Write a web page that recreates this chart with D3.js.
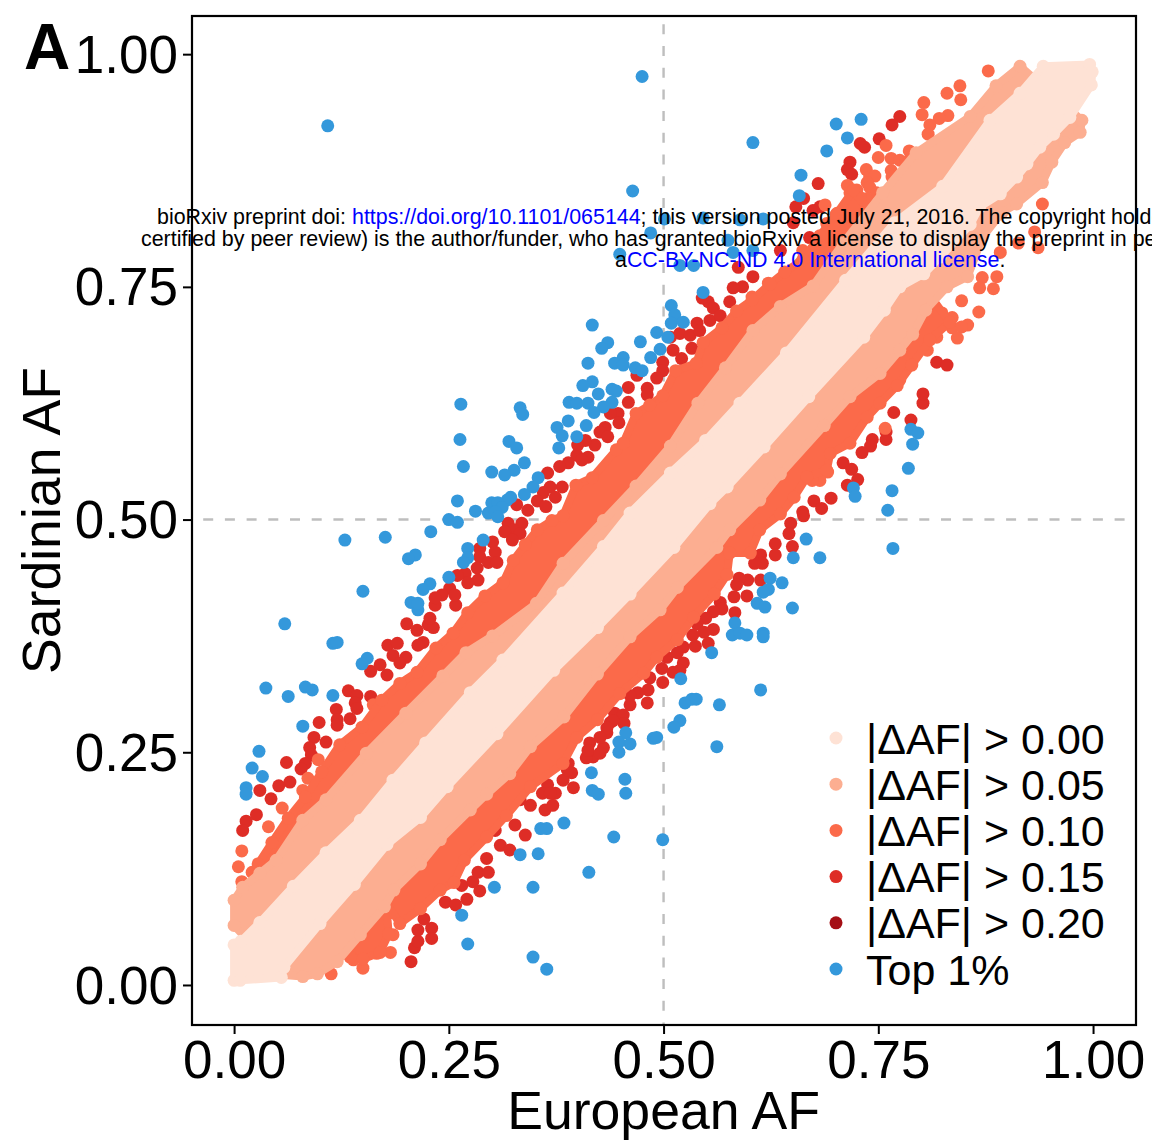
<!DOCTYPE html>
<html>
<head>
<meta charset="utf-8">
<script src="https://cdnjs.cloudflare.com/ajax/libs/d3/7.8.5/d3.min.js"></script>
<style>
  body { margin: 0; background: #fff; overflow: hidden; }
  text { font-family: "Liberation Sans", Arial, sans-serif; }
</style>
</head>
<body>
<div id="chart"></div>
<script>
// Values: [European AF, Sardinian AF]
const tickValues = [0, 0.25, 0.5, 0.75, 1];
const legendLabels = ["|ΔAF| > 0.00", "|ΔAF| > 0.05", "|ΔAF| > 0.10", "|ΔAF| > 0.15", "|ΔAF| > 0.20", "Top 1%"];
const legendColors = ["#fee2d5", "#fcae91", "#fb6a4a", "#de2d26", "#a50f15", "#3498db"];

const topOnePercent = [
  [.475,.976],[.109,.923],[.604,.905],[.464,.853],[.701,.925],[.730,.930],[.714,.910],[.690,.896],[.660,.870],[.658,.848],
  [.546,.824],[.589,.822],[.616,.823],[.501,.823],[.485,.808],[.575,.800],[.581,.787],[.449,.785],[.519,.773],[.535,.773],
  [.604,.789],[.546,.744],[.509,.730],[.513,.720],[.509,.711],[.523,.712],[.417,.709],[.492,.701],[.505,.696],[.473,.691],
  [.435,.690],[.428,.684],[.496,.683],[.453,.674],[.485,.674],[.412,.668],[.443,.668],[.453,.666],[.467,.663],[.475,.660],
  [.417,.648],[.406,.644],[.440,.640],[.445,.638],[.424,.635],[.440,.626],[.390,.626],[.399,.625],[.412,.625],[.430,.621],
  [.419,.615],[.264,.624],[.333,.620],[.336,.613],[.389,.606],[.410,.601],[.376,.599],[.382,.590],[.399,.589],[.263,.586],
  [.320,.584],[.329,.577],[.378,.577],[.267,.557],[.338,.561],[.326,.553],[.300,.551],[.315,.548],[.354,.545],[.348,.535],
  [.338,.527],[.322,.524],[.318,.521],[.260,.520],[.300,.518],[.307,.518],[.281,.509],[.312,.513],[.296,.507],[.304,.508],
  [.307,.503],[.250,.500],[.260,.497],[.229,.487],[.290,.478],[.272,.469],[.272,.459],[.267,.454],[.211,.462],[.203,.458],
  [.250,.438],[.228,.431],[.220,.425],[.206,.411],[.214,.403],[.214,.410],[.129,.478],[.176,.481],[.150,.423],[.059,.388],
  [.115,.367],[.120,.368],[.155,.351],[.149,.345],[.037,.319],[.063,.310],[.083,.320],[.091,.317],[.115,.311],[.080,.278],
  [.029,.251],[.021,.233],[.033,.224],[.014,.212],[.014,.205],
  [.788,.597],[.796,.593],[.790,.581],[.785,.555],[.766,.531],[.721,.534],[.723,.525],[.761,.510],[.767,.469],[.666,.479],
  [.651,.459],[.682,.459],[.624,.437],[.638,.432],[.622,.425],[.616,.422],[.609,.410],[.618,.406],[.650,.405],[.583,.389],
  [.580,.376],[.589,.378],[.597,.376],[.616,.378],[.616,.374],[.556,.357],[.520,.329],[.613,.317],[.525,.303],[.533,.307],
  [.538,.307],[.565,.301],[.519,.284],[.512,.277],[.456,.271],[.448,.261],[.461,.259],[.448,.250],[.488,.265],[.492,.266],
  [.562,.256],[.416,.228],[.455,.221],[.456,.206],[.417,.209],[.424,.205],[.499,.156],[.442,.159],[.384,.174],[.357,.168],
  [.364,.168],[.354,.141],[.333,.140],[.303,.105],[.348,.105],[.413,.121],[.348,.030],[.364,.017],[.272,.044],[.265,.075]
];

const deltaOver15 = [
  [.159,.337],[.178,.333],[.170,.344],[.179,.365],[.190,.367],[.185,.354],[.200,.352],[.193,.346],[.201,.388],[.213,.381],
  [.220,.368],[.214,.365],[.226,.387],[.232,.384],[.228,.394],[.234,.408],[.258,.408],[.133,.316],[.143,.311],[.159,.310],
  [.141,.303],[.143,.297],[.119,.296],[.099,.282],[.120,.285],[.120,.279],[.135,.286],[.093,.266],[.107,.261],[.088,.255],
  [.090,.247],[.083,.238],[.078,.232],[.061,.239],[.065,.218],[.052,.214],[.030,.209],[.043,.200],[.026,.183],[.014,.176],
  [.010,.166],
  [.206,.025],[.210,.040],[.214,.047],[.214,.059],[.221,.071],[.230,.061],[.230,.050],[.246,.089],[.258,.086],[.271,.092],
  [.286,.101],[.265,.107],[.278,.111],[.284,.121],[.296,.121],[.294,.136],[.310,.150],[.321,.145],[.304,.166],[.327,.172],
  [.339,.161],[.345,.193],[.333,.199],[.362,.188],[.371,.193],
  [.539,.711],[.519,.700],[.508,.696],[.533,.684],[.511,.682],[.521,.673],[.499,.669],[.499,.660],[.492,.652],[.469,.655],
  [.481,.641],[.481,.634],[.459,.642],[.459,.626],[.447,.614],[.438,.614],[.448,.604],[.432,.599],[.426,.594],[.435,.589],
  [.420,.580],[.409,.585],[.400,.580],[.412,.567],[.399,.569],[.405,.564],[.389,.561],[.379,.557],[.365,.550],[.382,.535],
  [.368,.535],[.360,.529],[.374,.524],[.353,.520],[.363,.514],[.342,.510],[.329,.516],[.319,.496],[.335,.496],[.325,.489],
  [.333,.485],[.315,.487],[.324,.478],[.301,.476],[.286,.469],[.286,.460],[.304,.465],[.296,.454],[.306,.454],[.283,.448],
  [.284,.435],[.269,.442],[.272,.432],[.260,.440],[.251,.426],[.257,.419],[.242,.419],[.234,.416],
  [.802,.625],[.788,.607],[.768,.615],[.759,.594],[.759,.586],[.743,.586],[.741,.579],[.731,.572],[.709,.561],[.719,.554],
  [.726,.543],[.714,.537],[.695,.523],[.675,.520],[.684,.512],[.662,.508],[.663,.504],[.648,.496],[.646,.485],[.650,.471],
  [.630,.474],[.630,.462],[.613,.462],[.615,.453],[.606,.453],[.613,.435],[.598,.435],[.588,.437],[.585,.430],[.582,.417],
  [.597,.418],[.566,.411],[.568,.404],[.558,.401],[.549,.394],[.583,.400],[.539,.388],[.558,.382],[.547,.379],[.534,.376],
  [.552,.367],[.537,.364],[.523,.363],[.516,.357],[.504,.352],[.523,.346],[.519,.338],[.498,.340],[.511,.336],[.484,.330],
  [.499,.325],[.482,.317],[.470,.314],[.461,.311],[.481,.303],[.461,.301],[.443,.292],[.453,.290],[.438,.282],[.454,.281],
  [.434,.271],[.414,.260],[.430,.255],[.418,.245],[.410,.244],[.389,.238],[.393,.228],[.383,.220],[.395,.212],[.365,.215],
  [.359,.206],[.374,.206],
  [.441,.284],[.434,.276],[.426,.266],[.412,.252],[.426,.249],[.388,.231],[.368,.206],
  [.775,.933],[.766,.924],[.751,.909],[.729,.904],[.734,.900],[.717,.884],[.714,.876],[.719,.871],[.680,.861],[.663,.845],
  [.654,.836],[.682,.836],[.674,.832],[.651,.819],[.670,.803],[.636,.789],[.587,.771],[.604,.761],[.592,.750],[.581,.749],
  [.577,.734],[.552,.734],[.558,.727],[.545,.738],[.554,.714],[.531,.698],[.542,.703],[.566,.719],
  [.818,.669],[.830,.666],[.802,.635]
];

const deltaOver10 = [
  [.878,.982],[.845,.966],[.830,.958],[.846,.951],[.803,.948],[.801,.935],[.831,.934],[.821,.931],[.810,.924],[.808,.914],
  [.759,.902],[.786,.896],[.750,.889],[.765,.888],[.775,.886],[.782,.884],[.765,.875],[.766,.868],[.736,.876],[.740,.868],
  [.746,.869],[.737,.862],[.714,.859],[.725,.854],[.740,.857],[.737,.845],[.748,.851],[.729,.846],[.717,.851],[.688,.838],
  [.702,.829],[.714,.832],[.690,.818],[.679,.800],[.662,.789],[.659,.775],[.647,.760],[.636,.757],[.622,.754],[.639,.746],
  [.651,.754],[.630,.728],[.616,.723],[.603,.739],[.591,.723],[.595,.711],
  [.941,.839],[.936,.792],[.913,.797],[.932,.809],[.892,.787],[.871,.760],[.888,.761],[.868,.749],[.884,.748],[.847,.735],
  [.867,.723],[.824,.722],[.836,.717],[.810,.709],[.854,.709],[.836,.706],[.847,.707],[.810,.698],[.801,.696],[.818,.696],
  [.842,.695],[.785,.685],[.807,.682],[.775,.650],[.787,.666],[.752,.637],[.729,.614],[.758,.598],[.740,.628],[.691,.551],
  [.682,.542],[.673,.542],[.712,.585],[.717,.601],[.700,.612],[.682,.585],
  [.113,.012],[.150,.018],[.182,.035],[.139,.038],[.139,.027],[.185,.054],[.166,.034],[.158,.056],
  [.005,.127],[.009,.111],[.009,.144],[.021,.121],[.040,.140],[.040,.170],[.062,.163],[.056,.190],[.080,.209],[.086,.222],
  [.098,.242],[.162,.301]
];

// Envelope of each |ΔAF| band, upper and lower side, left to right
const orangeUpper = [
  [.028,.130],[.044,.153],[.063,.179],[.083,.202],[.102,.229],[.123,.258],[.149,.277],[.172,.306],[.193,.324],[.213,.336],
  [.235,.362],[.255,.378],[.272,.400],[.292,.418],[.313,.432],[.325,.456],[.339,.473],[.353,.489],[.370,.499],[.383,.504],
  [.398,.537],[.417,.545],[.445,.575],[.453,.582],[.468,.614],[.484,.623],[.499,.633],[.514,.660],[.538,.668],[.546,.690],
  [.568,.706],[.585,.724],[.603,.736],[.624,.753],[.641,.766],[.662,.779],[.682,.805],[.701,.828],[.721,.854]
];
const orangeLower = [
  [.135,.030],[.150,.028],[.170,.035],[.180,.055],[.177,.088],[.193,.066],[.217,.082],[.240,.102],[.256,.110],[.268,.134],
  [.294,.159],[.317,.182],[.345,.213],[.383,.238],[.399,.266],[.423,.285],[.449,.313],[.477,.335],[.492,.352],[.516,.371],
  [.535,.395],[.559,.420],[.574,.441],[.577,.464],[.601,.464],[.612,.489],[.636,.506],[.652,.524],[.667,.546],[.690,.553],
  [.694,.571],[.717,.582],[.737,.610],[.752,.625],[.772,.644],[.789,.666],[.810,.693],[.833,.712]
];
const salmonUpper = [
  [.000,.064],[.000,.091],[.010,.105],[.030,.120],[.049,.134],[.080,.177],[.107,.199],[.154,.249],[.200,.292],[.243,.332],
  [.270,.357],[.301,.375],[.352,.410],[.383,.453],[.430,.499],[.468,.536],[.508,.579],[.540,.625],[.572,.663],[.604,.703],
  [.636,.729],[.674,.751],[.709,.797],[.755,.851],[.794,.894],[.857,.933],[.887,.966],[.915,.987]
];
const salmonLower = [
  [.054,.011],[.080,.009],[.097,.012],[.120,.025],[.147,.054],[.175,.084],[.186,.102],[.217,.130],[.240,.156],[.275,.188],
  [.294,.205],[.321,.227],[.345,.256],[.384,.288],[.423,.334],[.461,.374],[.496,.403],[.516,.427],[.562,.470],[.577,.489],
  [.612,.521],[.636,.549],[.687,.601],[.717,.632],[.752,.657],[.775,.682],[.790,.699],[.805,.725],[.830,.750],[.854,.761],
  [.871,.803],[.894,.830],[.911,.839],[.941,.862],[.952,.884],[.967,.905],[.985,.916],[.987,.929]
];
const lightUpper = [
  [.000,.005],[.000,.043],[.008,.047],[.030,.067],[.069,.106],[.107,.142],[.147,.177],[.185,.220],[.223,.260],[.275,.314],
  [.313,.349],[.383,.421],[.430,.471],[.461,.507],[.508,.550],[.549,.585],[.589,.625],[.643,.679],[.712,.757],[.769,.819],
  [.825,.858],[.880,.929],[.915,.958],[.942,.987],[.996,.989],[.999,.981]
];
const lightLower = [
  [.007,.005],[.055,.008],[.058,.019],[.100,.066],[.140,.108],[.178,.151],[.217,.180],[.248,.213],[.306,.270],[.372,.338],
  [.423,.384],[.461,.420],[.512,.470],[.554,.517],[.574,.535],[.617,.578],[.669,.632],[.733,.696],[.757,.725],[.775,.750],
  [.803,.764],[.822,.782],[.857,.817],[.868,.836],[.892,.850],[.911,.868],[.923,.882],[.938,.900],[.954,.914],[.973,.932],
  [.998,.967]
];

// 1. Setting up variables that describe our chart's space.
const width = 1152;
const height = 1140;
const margin = ({top: 16, right: 16, bottom: 115, left: 192});
const pointRadius = 6.5;

const svg = d3.create("svg")
    .attr("width", width)
    .attr("height", height);

// 2. Setting up scales.
const xScale = d3.scaleLinear()
    .domain([-0.049, 1.050])
    .range([margin.left, width - margin.right]);

const yScale = d3.scaleLinear()
    .domain([-0.043, 1.041])
    .range([height - margin.bottom, margin.top]);

// 3. Dashed guide lines at 0.5
svg.append("line")
    .attr("x1", margin.left).attr("x2", width - margin.right)
    .attr("y1", yScale(0.5)).attr("y2", yScale(0.5))
    .attr("stroke", "#bebebe").attr("stroke-width", 2.4)
    .attr("stroke-dasharray", "10,11.7").attr("stroke-dashoffset", 10.5);
svg.append("line")
    .attr("x1", xScale(0.5)).attr("x2", xScale(0.5))
    .attr("y1", height - margin.bottom).attr("y2", margin.top)
    .attr("stroke", "#bebebe").attr("stroke-width", 2.4)
    .attr("stroke-dasharray", "10,11.7").attr("stroke-dashoffset", 7.5);

// 4. Points, outermost class first so the inner bands sit on top.
const drawPoints = function(points, color) {
    svg.append("g").selectAll("circle")
        .data(points)
        .enter().append("circle")
        .attr("cx", d => xScale(d[0]))
        .attr("cy", d => yScale(d[1]))
        .attr("r", pointRadius)
        .attr("fill", color);
};

const outline = d3.line()
    .x(d => xScale(d[0]))
    .y(d => yScale(d[1]));

const drawBand = function(upper, lower, color) {
    svg.append("path")
        .attr("d", outline(upper.concat(lower.slice().reverse())) + "Z")
        .attr("fill", color)
        .attr("stroke", color)
        .attr("stroke-width", 8)
        .attr("stroke-linejoin", "round");
    drawPoints(upper.concat(lower), color);
};

drawPoints(deltaOver15, legendColors[3]);
drawPoints(topOnePercent, legendColors[5]);
drawPoints(deltaOver10, legendColors[2]);
drawBand(orangeUpper, orangeLower, legendColors[2]);
drawBand(salmonUpper, salmonLower, legendColors[1]);
drawBand(lightUpper, lightLower, legendColors[0]);

// 5. Axes and panel border
const xAxis = svg.append("g")
    .attr("transform", `translate(0, ${height - margin.bottom})`)
    .call(d3.axisBottom(xScale).tickValues(tickValues).tickFormat(d3.format(".2f")).tickSize(9).tickPadding(6));
const yAxis = svg.append("g")
    .attr("transform", `translate(${margin.left}, 0)`)
    .call(d3.axisLeft(yScale).tickValues(tickValues).tickFormat(d3.format(".2f")).tickSize(9).tickPadding(5));

[xAxis, yAxis].forEach(axis => {
    axis.select(".domain").remove();
    axis.selectAll(".tick line").attr("stroke", "#000").attr("stroke-width", 2);
    axis.selectAll(".tick text")
        .attr("fill", "#000")
        .style("font-family", '"Liberation Sans", Arial, sans-serif')
        .style("font-size", "53px");
});
yAxis.selectAll(".tick text").attr("dy", "0.34em");

svg.append("rect")
    .attr("x", margin.left)
    .attr("y", margin.top)
    .attr("width", width - margin.left - margin.right)
    .attr("height", height - margin.top - margin.bottom)
    .attr("fill", "none")
    .attr("stroke", "#000")
    .attr("stroke-width", 2.2);

// 6. Titles
svg.append("text")
    .attr("x", xScale(0.5))
    .attr("y", 1129)
    .attr("text-anchor", "middle")
    .attr("font-size", 53.6)
    .text("European AF");

svg.append("text")
    .attr("transform", `translate(60, ${yScale(0.5) + 1}) rotate(-90)`)
    .attr("text-anchor", "middle")
    .attr("font-size", 53.6)
    .text("Sardinian AF");

svg.append("text")
    .attr("x", 24)
    .attr("y", 69)
    .attr("font-size", 64)
    .attr("font-weight", "bold")
    .text("A");

// 7. Legend
const legend = svg.append("g").selectAll("g")
    .data(legendLabels)
    .enter().append("g")
    .attr("transform", (d, i) => `translate(836, ${738 + i * 46.2})`);

legend.append("circle")
    .attr("r", pointRadius)
    .attr("fill", (d, i) => legendColors[i]);

legend.append("text")
    .attr("x", 30)
    .attr("y", 15.5)
    .attr("font-size", 43)
    .attr("fill", "#000")
    .text(d => d);

// 8. Preprint stamp running across the figure
const stamp = svg.append("g").attr("font-size", 21.4);

const line1 = stamp.append("text").attr("x", 157).attr("y", 224);
line1.append("tspan").text("bioRxiv preprint doi: ");
line1.append("tspan").attr("fill", "#0000ff").text("https://doi.org/10.1101/065144");
line1.append("tspan").text("; this version posted July 21, 2016. The copyright holder for this preprint (which was not");

stamp.append("text").attr("x", 141).attr("y", 245.5)
    .text("certified by peer review) is the author/funder, who has granted bioRxiv a license to display the preprint in perpetuity. It is made available under");

const line3 = stamp.append("text").attr("x", 615).attr("y", 267);
line3.append("tspan").text("a");
line3.append("tspan").attr("fill", "#0000ff").text("CC-BY-NC-ND 4.0 International license");
line3.append("tspan").text(".");

document.getElementById("chart").appendChild(svg.node());
</script>
</body>
</html>
